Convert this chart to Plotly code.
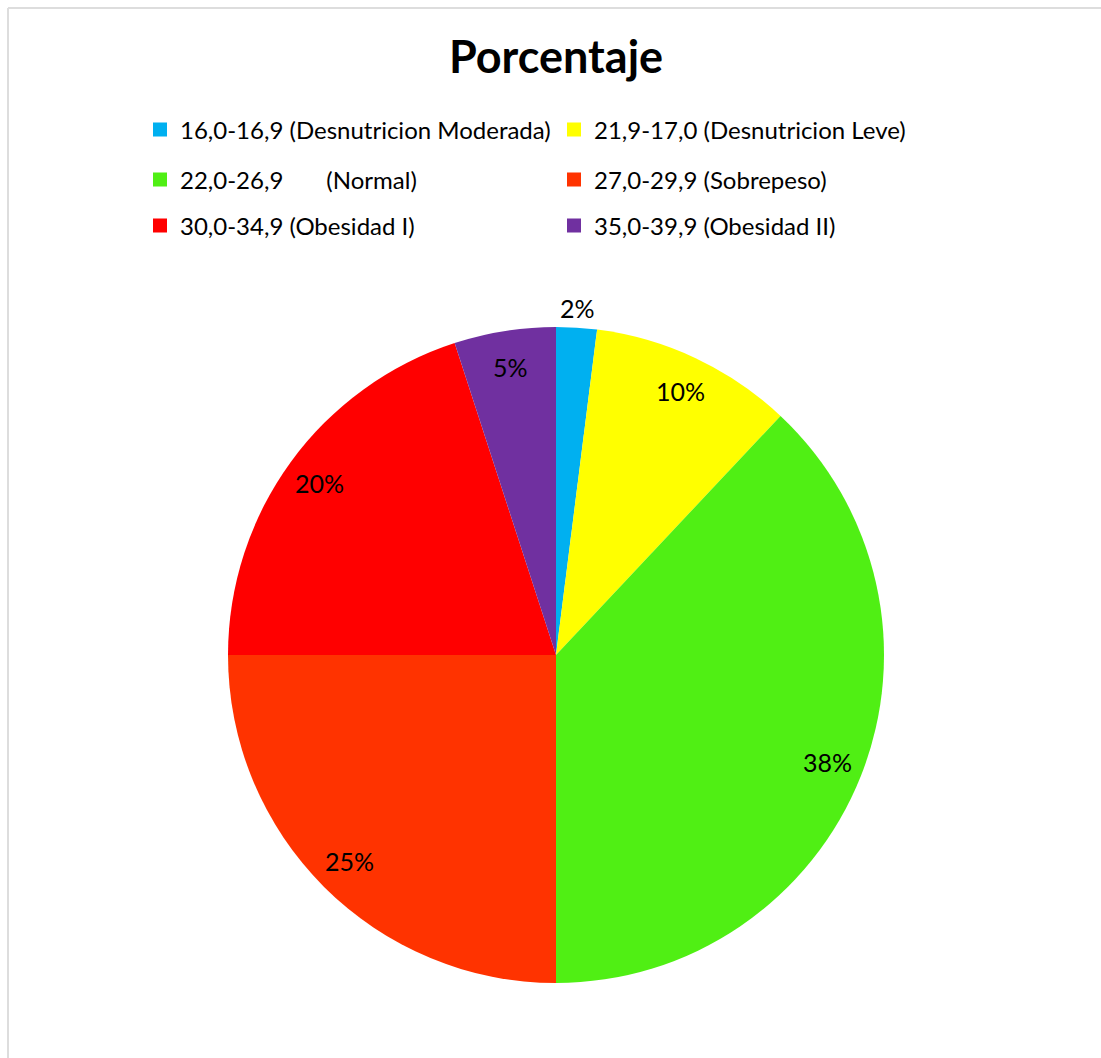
import math
import plotly.graph_objects as go

# BMI ranges and their share of the sample (percent)
categorias = [
    "16,0-16,9 (Desnutricion Moderada)",
    "21,9-17,0 (Desnutricion Leve)",
    "22,0-26,9" + "\u00a0" * 7 + "(Normal)",
    "27,0-29,9 (Sobrepeso)",
    "30,0-34,9 (Obesidad I)",
    "35,0-39,9 (Obesidad II)",
]
porcentajes = [2, 10, 38, 25, 20, 5]
colores = ["#00B0F0", "#FFFF00", "#50EF14", "#FF3300", "#FF0000", "#7030A0"]

W, H = 1101, 1058
FONT = "Lato, Noto Sans, sans-serif"

# pie placement in pixels (center and radius)
cx_px, cy_px, r_px = 556, 655, 328
dom_x = [(cx_px - r_px) / W, (cx_px + r_px) / W]
dom_y = [1 - (cy_px + r_px) / H, 1 - (cy_px - r_px) / H]

fig = go.Figure()
fig.add_trace(go.Pie(
    labels=categorias,
    values=porcentajes,
    marker=dict(colors=colores, line=dict(width=0)),
    sort=False,
    direction="clockwise",
    rotation=0,
    textinfo="none",
    hoverinfo="label+percent",
    showlegend=False,
    domain=dict(x=dom_x, y=dom_y),
))

# data labels placed along each slice's mid-angle
total = sum(porcentajes)
acum = 0
annotations = []
for v in porcentajes:
    theta = (acum + v / 2) / total * 2 * math.pi
    acum += v
    f = 1.06 if v / total < 0.03 else 0.89
    x = (cx_px + f * r_px * math.sin(theta)) / W
    y = 1 - (cy_px - f * r_px * math.cos(theta)) / H
    annotations.append(dict(
        x=x, y=y, xref="paper", yref="paper", text=f"{v}%", showarrow=False,
        font=dict(family=FONT, size=25, color="#000000"),
        xanchor="center", yanchor="middle",
    ))

# legend entries: two per row, three rows
legend_names = ["legend", "legend2", "legend3"]
for i, (nombre, color) in enumerate(zip(categorias, colores)):
    fig.add_trace(go.Scatter(
        x=[None], y=[None], mode="markers", name=nombre,
        marker=dict(symbol="square", size=14, color=color),
        legend=legend_names[i // 2], hoverinfo="skip",
    ))

row_y = [130, 180, 226]
leg_common = dict(
    orientation="h", xref="paper", yref="paper", x=140 / W, xanchor="left",
    yanchor="middle", font=dict(family=FONT, size=24, color="#000000"),
    entrywidth=369, entrywidthmode="pixels", bgcolor="rgba(0,0,0,0)",
    itemclick=False, itemdoubleclick=False,
)
layout_legends = {}
for name, ry in zip(legend_names, row_y):
    layout_legends[name] = dict(leg_common, y=1 - ry / H)

fig.update_layout(
    width=W, height=H,
    margin=dict(l=0, r=0, t=0, b=0, autoexpand=False),
    paper_bgcolor="#FFFFFF", plot_bgcolor="#FFFFFF",
    title=dict(text="<b>Porcentaje</b>", x=556 / W, xanchor="center",
               y=1 - 57 / H, yanchor="middle", yref="container",
               font=dict(family=FONT, size=45, color="#000000")),
    xaxis=dict(visible=False), yaxis=dict(visible=False),
    annotations=annotations,
    shapes=[
        dict(type="line", xref="paper", yref="paper", x0=8 / W, x1=1.01,
             y0=1 - 8 / H, y1=1 - 8 / H, line=dict(color="#DDDDDD", width=2)),
        dict(type="line", xref="paper", yref="paper", x0=8 / W, x1=8 / W,
             y0=-0.01, y1=1 - 8 / H, line=dict(color="#DDDDDD", width=2)),
    ],
    **layout_legends,
)

fig.write_html("out.html")
